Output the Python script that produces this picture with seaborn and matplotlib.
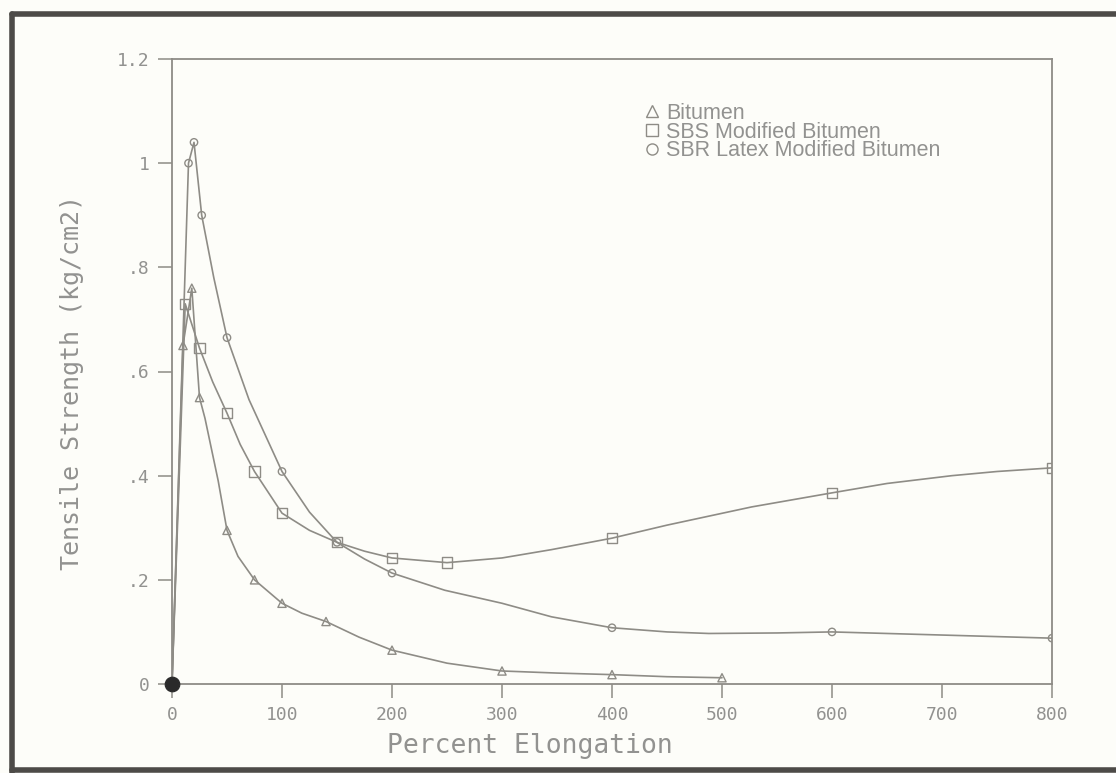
import matplotlib
matplotlib.use("Agg")
import matplotlib.pyplot as plt
from matplotlib.lines import Line2D
import seaborn as sns

# ---------------- data ----------------
# Bitumen
bit_curve_x = [0, 10, 18, 25, 30, 42, 50, 60, 75, 100, 118, 140, 170, 200, 250, 300, 350, 400, 450, 500]
bit_curve_y = [0, 0.65, 0.76, 0.55, 0.51, 0.39, 0.295, 0.245, 0.20, 0.155, 0.136, 0.12, 0.09, 0.065, 0.04, 0.025, 0.021, 0.018, 0.014, 0.012]
bit_mark_x = [10, 18, 25, 50, 75, 100, 140, 200, 300, 400, 500]
bit_mark_y = [0.65, 0.76, 0.55, 0.295, 0.20, 0.155, 0.12, 0.065, 0.025, 0.018, 0.012]

# SBS modified bitumen
sbs_curve_x = [0, 12, 25, 37, 50, 62, 75, 100, 125, 150, 175, 200, 250, 300, 345, 400, 450, 527, 600, 650, 709, 750, 800]
sbs_curve_y = [0, 0.73, 0.645, 0.58, 0.52, 0.46, 0.408, 0.328, 0.295, 0.272, 0.255, 0.242, 0.233, 0.242, 0.258, 0.28, 0.305, 0.34, 0.367, 0.385, 0.40, 0.408, 0.415]
sbs_mark_x = [12, 25, 50, 75, 100, 150, 200, 250, 400, 600, 800]
sbs_mark_y = [0.73, 0.645, 0.52, 0.408, 0.328, 0.272, 0.242, 0.233, 0.28, 0.367, 0.415]

# SBR latex modified bitumen
sbr_curve_x = [0, 15, 20, 27, 38, 50, 70, 100, 125, 150, 175, 200, 248, 300, 345, 400, 450, 488, 550, 600, 700, 800]
sbr_curve_y = [0, 1.0, 1.04, 0.90, 0.78, 0.665, 0.546, 0.408, 0.33, 0.272, 0.24, 0.213, 0.18, 0.155, 0.129, 0.108, 0.10, 0.097, 0.098, 0.10, 0.094, 0.088]
sbr_mark_x = [15, 20, 27, 50, 100, 150, 200, 400, 600, 800]
sbr_mark_y = [1.0, 1.04, 0.90, 0.665, 0.408, 0.272, 0.213, 0.108, 0.10, 0.088]

origin_x = [0]
origin_y = [0]

series_labels = ["Bitumen", "SBS Modified Bitumen", "SBR Latex Modified Bitumen"]
x_ticks = [0, 100, 200, 300, 400, 500, 600, 700, 800]
x_tick_labels = ["0", "100", "200", "300", "400", "500", "600", "700", "800"]
y_ticks = [0, 0.2, 0.4, 0.6, 0.8, 1.0, 1.2]
y_tick_labels = ["0", ".2", ".4", ".6", ".8", "1", "1.2"]
x_title = "Percent Elongation"
y_title = "Tensile Strength (kg/cm2)"

# ---------------- styling ----------------
sns.set_theme(style="ticks")
plt.rcParams['font.family'] = ['DejaVu Sans Mono', 'DejaVu Sans']

bg = '#fdfdf9'
ink = '#8e8c86'
txt = '#929290'

fig = plt.figure(figsize=(11.16, 7.73), dpi=100)
fig.patch.set_facecolor(bg)
ax = fig.add_axes([172 / 1116, 1 - 684 / 773, (1052 - 172) / 1116, (684 - 59) / 773])
ax.set_facecolor(bg)

for cx, cy in [(bit_curve_x, bit_curve_y), (sbs_curve_x, sbs_curve_y), (sbr_curve_x, sbr_curve_y)]:
    sns.lineplot(x=cx, y=cy, ax=ax, color=ink, lw=1.2, sort=False, estimator=None)

sns.scatterplot(x=bit_mark_x, y=bit_mark_y, ax=ax, marker='^', s=35,
                facecolors='none', edgecolor=ink, linewidth=1.0, zorder=3)
sns.scatterplot(x=sbs_mark_x, y=sbs_mark_y, ax=ax, marker='s', s=55,
                facecolors='none', edgecolor=ink, linewidth=1.0, zorder=3)
sns.scatterplot(x=sbr_mark_x, y=sbr_mark_y, ax=ax, marker='o', s=28,
                facecolors='none', edgecolor=ink, linewidth=1.0, zorder=3)
sns.scatterplot(x=origin_x, y=origin_y, ax=ax, marker='o', s=110, color='#2a2a2a',
                edgecolor='#2a2a2a', zorder=5, clip_on=False)

ax.set_xlim(0, 800)
ax.set_ylim(0, 1.2)
ax.set_xticks(x_ticks)
ax.set_xticklabels(x_tick_labels)
ax.set_yticks(y_ticks)
ax.set_yticklabels(y_tick_labels)
ax.tick_params(axis='both', direction='out', length=10, width=1.1, color=ink,
               labelcolor=txt, labelsize=13, pad=6)
for sp in ax.spines.values():
    sp.set_visible(True)
    sp.set_color(ink)
    sp.set_linewidth(1.3)

ax.set_xlabel(x_title, fontsize=19, color=txt)
ax.set_ylabel(y_title, fontsize=18, color=txt)
ax.xaxis.set_label_coords((530 - 172) / 880, -(746 - 684) / 625)
ax.yaxis.set_label_coords(-(172 - 72) / 880, (684 - 383) / 625)
ax.xaxis.label.set_va('center')
ax.yaxis.label.set_va('center')

handles = [
    Line2D([], [], marker='^', ls='none', mfc='none', mec=ink, ms=9, mew=1.0),
    Line2D([], [], marker='s', ls='none', mfc='none', mec=ink, ms=9, mew=1.0),
    Line2D([], [], marker='o', ls='none', mfc='none', mec=ink, ms=8, mew=1.0),
]
leg = ax.legend(handles, series_labels, loc='upper left', bbox_to_anchor=(634 / 1116, 1 - 92 / 773),
                bbox_transform=fig.transFigure, frameon=False,
                prop={'family': 'Liberation Sans', 'size': 15.5},
                handlelength=0.7, handletextpad=0.3, labelspacing=-0.1, borderpad=0.0)
for t in leg.get_texts():
    t.set_color(txt)

# photo frame edges
fr = '#4d4b48'
fig.add_artist(Line2D([12 / 1116, 12 / 1116], [0, 1 - 14 / 773], color=fr, lw=4, transform=fig.transFigure))
fig.add_artist(Line2D([12 / 1116, 1], [1 - 14 / 773, 1 - 14 / 773], color=fr, lw=4, transform=fig.transFigure))
fig.add_artist(Line2D([12 / 1116, 1], [3 / 773, 3 / 773], color=fr, lw=4, transform=fig.transFigure))

fig.savefig("out.png", dpi=100, facecolor=bg)
